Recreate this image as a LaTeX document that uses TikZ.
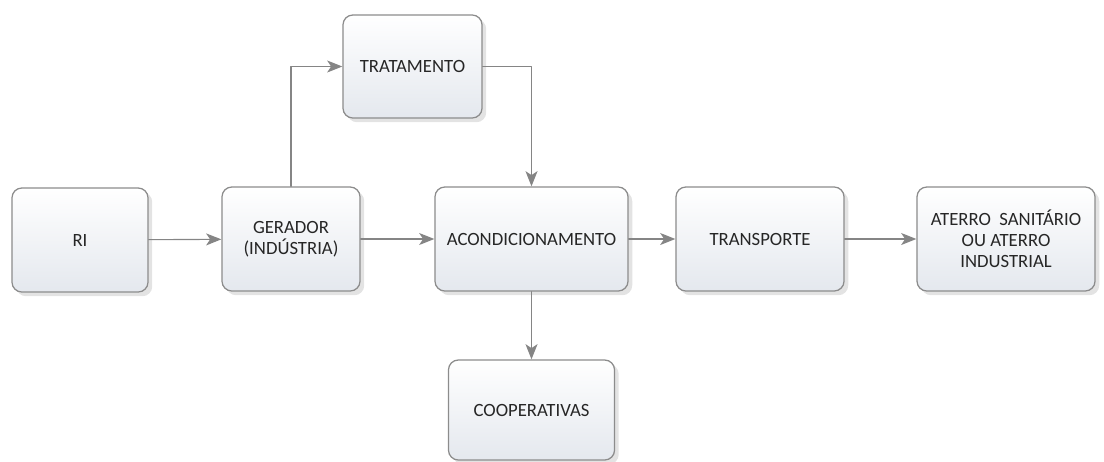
\documentclass[tikz,border=0pt]{standalone}
\usepackage{fontspec}
\setmainfont{Carlito}
\usetikzlibrary{arrows.meta,shadows}
\definecolor{boxline}{HTML}{8C8C8C}
\definecolor{boxtop}{HTML}{FFFFFF}
\definecolor{boxbot}{HTML}{E4E8EE}
\definecolor{arrowgray}{HTML}{858585}
\definecolor{txt}{HTML}{262626}
\begin{document}
\begin{tikzpicture}[x=0.025cm,y=-0.025cm,font=\fontsize{13.3}{15}\selectfont,
  line cap=round,line join=round,
  etapa/.style={draw=boxline,line width=0.9pt,rounded corners=7,
    top color=boxtop,bottom color=boxbot,text=txt,align=center,
    minimum height=2.6cm,inner sep=2pt,
    drop shadow={opacity=0.22,shadow xshift=3pt,shadow yshift=-3pt}},
  fluxo/.style={draw=arrowgray,line width=0.8pt,
    -{Stealth[length=0.38cm,width=0.3cm,inset=0.1cm,fill=arrowgray]}}]
\useasboundingbox (0,0) rectangle (1104,461);
\node[etapa,minimum width=3.4cm] (ri) at (80,240) {RI};
\node[etapa,minimum width=3.45cm] (ger) at (291,239) {GERADOR\\(INDÚSTRIA)};
\node[etapa,minimum width=3.475cm,minimum height=2.575cm] (tra) at (412.5,66.5) {TRATAMENTO};
\node[etapa,minimum width=4.825cm] (aco) at (531.5,239) {ACONDICIONAMENTO};
\node[etapa,minimum width=4.2cm] (tsp) at (760,239) {TRANSPORTE};
\node[etapa,minimum width=4.45cm] (ate) at (1006,239) {ATERRO\ \ SANITÁRIO\\OU ATERRO\\INDUSTRIAL};
\node[etapa,minimum width=4.15cm,minimum height=2.5cm] (coo) at (531.5,410) {COOPERATIVAS};
% ligacoes
\draw[fluxo] (ri) -- (ger);
\draw[fluxo] (ger.north) |- (tra.west);
\draw[fluxo] (tra.east) -| (aco.north);
\draw[fluxo] (ger) -- (aco);
\draw[fluxo] (aco) -- (tsp);
\draw[fluxo] (tsp) -- (ate);
\draw[fluxo] (aco.south) -- (coo.north);
\end{tikzpicture}
\end{document}
